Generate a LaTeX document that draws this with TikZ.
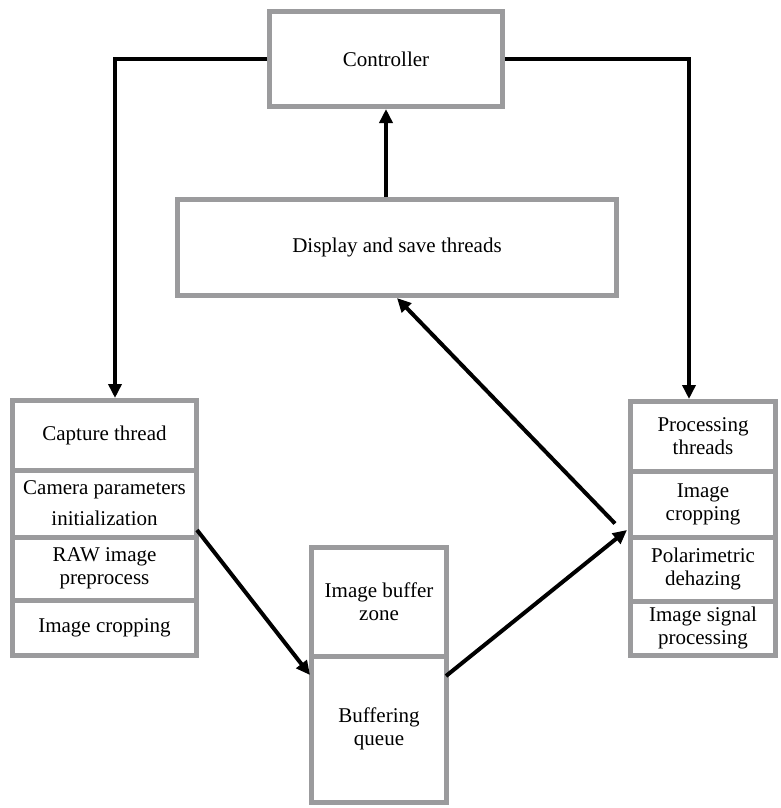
\documentclass[tikz,border=0pt]{standalone}
\usepackage{fontspec}
\setmainfont{Liberation Serif}
\usetikzlibrary{arrows.meta,calc}
\definecolor{boxgray}{RGB}{155,155,157}
\begin{document}
\begin{tikzpicture}[x=1pt,y=-1pt,
  box/.style={draw=boxgray, line width=5pt, fill=white, inner sep=0pt, align=center,
    font=\fontsize{21}{23}\selectfont, rectangle},
  arr/.style={line width=4pt, -{Triangle[length=14pt,width=13pt]}},
  link/.style={line width=4pt}]
\useasboundingbox (0,0) rectangle (781,808);
% controller and display
\node[box, minimum width=233pt, minimum height=95pt] (ctrl) at (386,59) {Controller};
\node[box, minimum width=439pt, minimum height=96pt] (disp) at (397,247.5) {Display and save threads};
% capture stack
\node[box, minimum width=184pt, minimum height=69.5pt] (cap1) at (104.5,435.25) {Capture thread};
\node[box, minimum width=184pt, minimum height=67pt] (cap2) at (104.5,503.5) {Camera parameters\\[8pt]initialization};
\node[box, minimum width=184pt, minimum height=63pt] (cap3) at (104.5,568.5) {RAW image\\preprocess};
\node[box, minimum width=184pt, minimum height=55.5pt] (cap4) at (104.5,627.75) {Image cropping};
% processing stack
\node[box, minimum width=145pt, minimum height=69.5pt] (proc1) at (703,436.25) {Processing\\threads};
\node[box, minimum width=145pt, minimum height=66pt] (proc2) at (703,504) {Image\\cropping};
\node[box, minimum width=145pt, minimum height=64pt] (proc3) at (703,569) {Polarimetric\\dehazing};
\node[box, minimum width=145pt, minimum height=54.5pt] (proc4) at (703,628.25) {Image signal\\processing};
% buffer stack
\node[box, minimum width=135pt, minimum height=108.5pt] (buf1) at (379,601.75) {Image buffer\\zone};
\node[box, minimum width=135pt, minimum height=146.5pt] (buf2) at (379,729.25) {Buffering\\queue};
% helper coordinates
\coordinate (lx) at (115,0);
\coordinate (rx) at (689,0);
% connectors
\draw[arr] (ctrl.west) -| (lx |- cap1.north);
\draw[arr] (ctrl.east) -| (rx |- proc1.north);
\draw[arr] (disp.north -| ctrl.south) -- (ctrl.south);
\draw[arr] ($(cap2.south east)+(-2,-9.5)$) -- ($(buf2.north west)+(1,21.5)$);
\draw[arr] ($(buf2.north east)+(-3,22.5)$) -- ($(proc2.south west)+(-1,-9.5)$);
\draw[arr] ($(proc2.south west)+(-13,-16)$) -- (disp.south);
\end{tikzpicture}
\end{document}
